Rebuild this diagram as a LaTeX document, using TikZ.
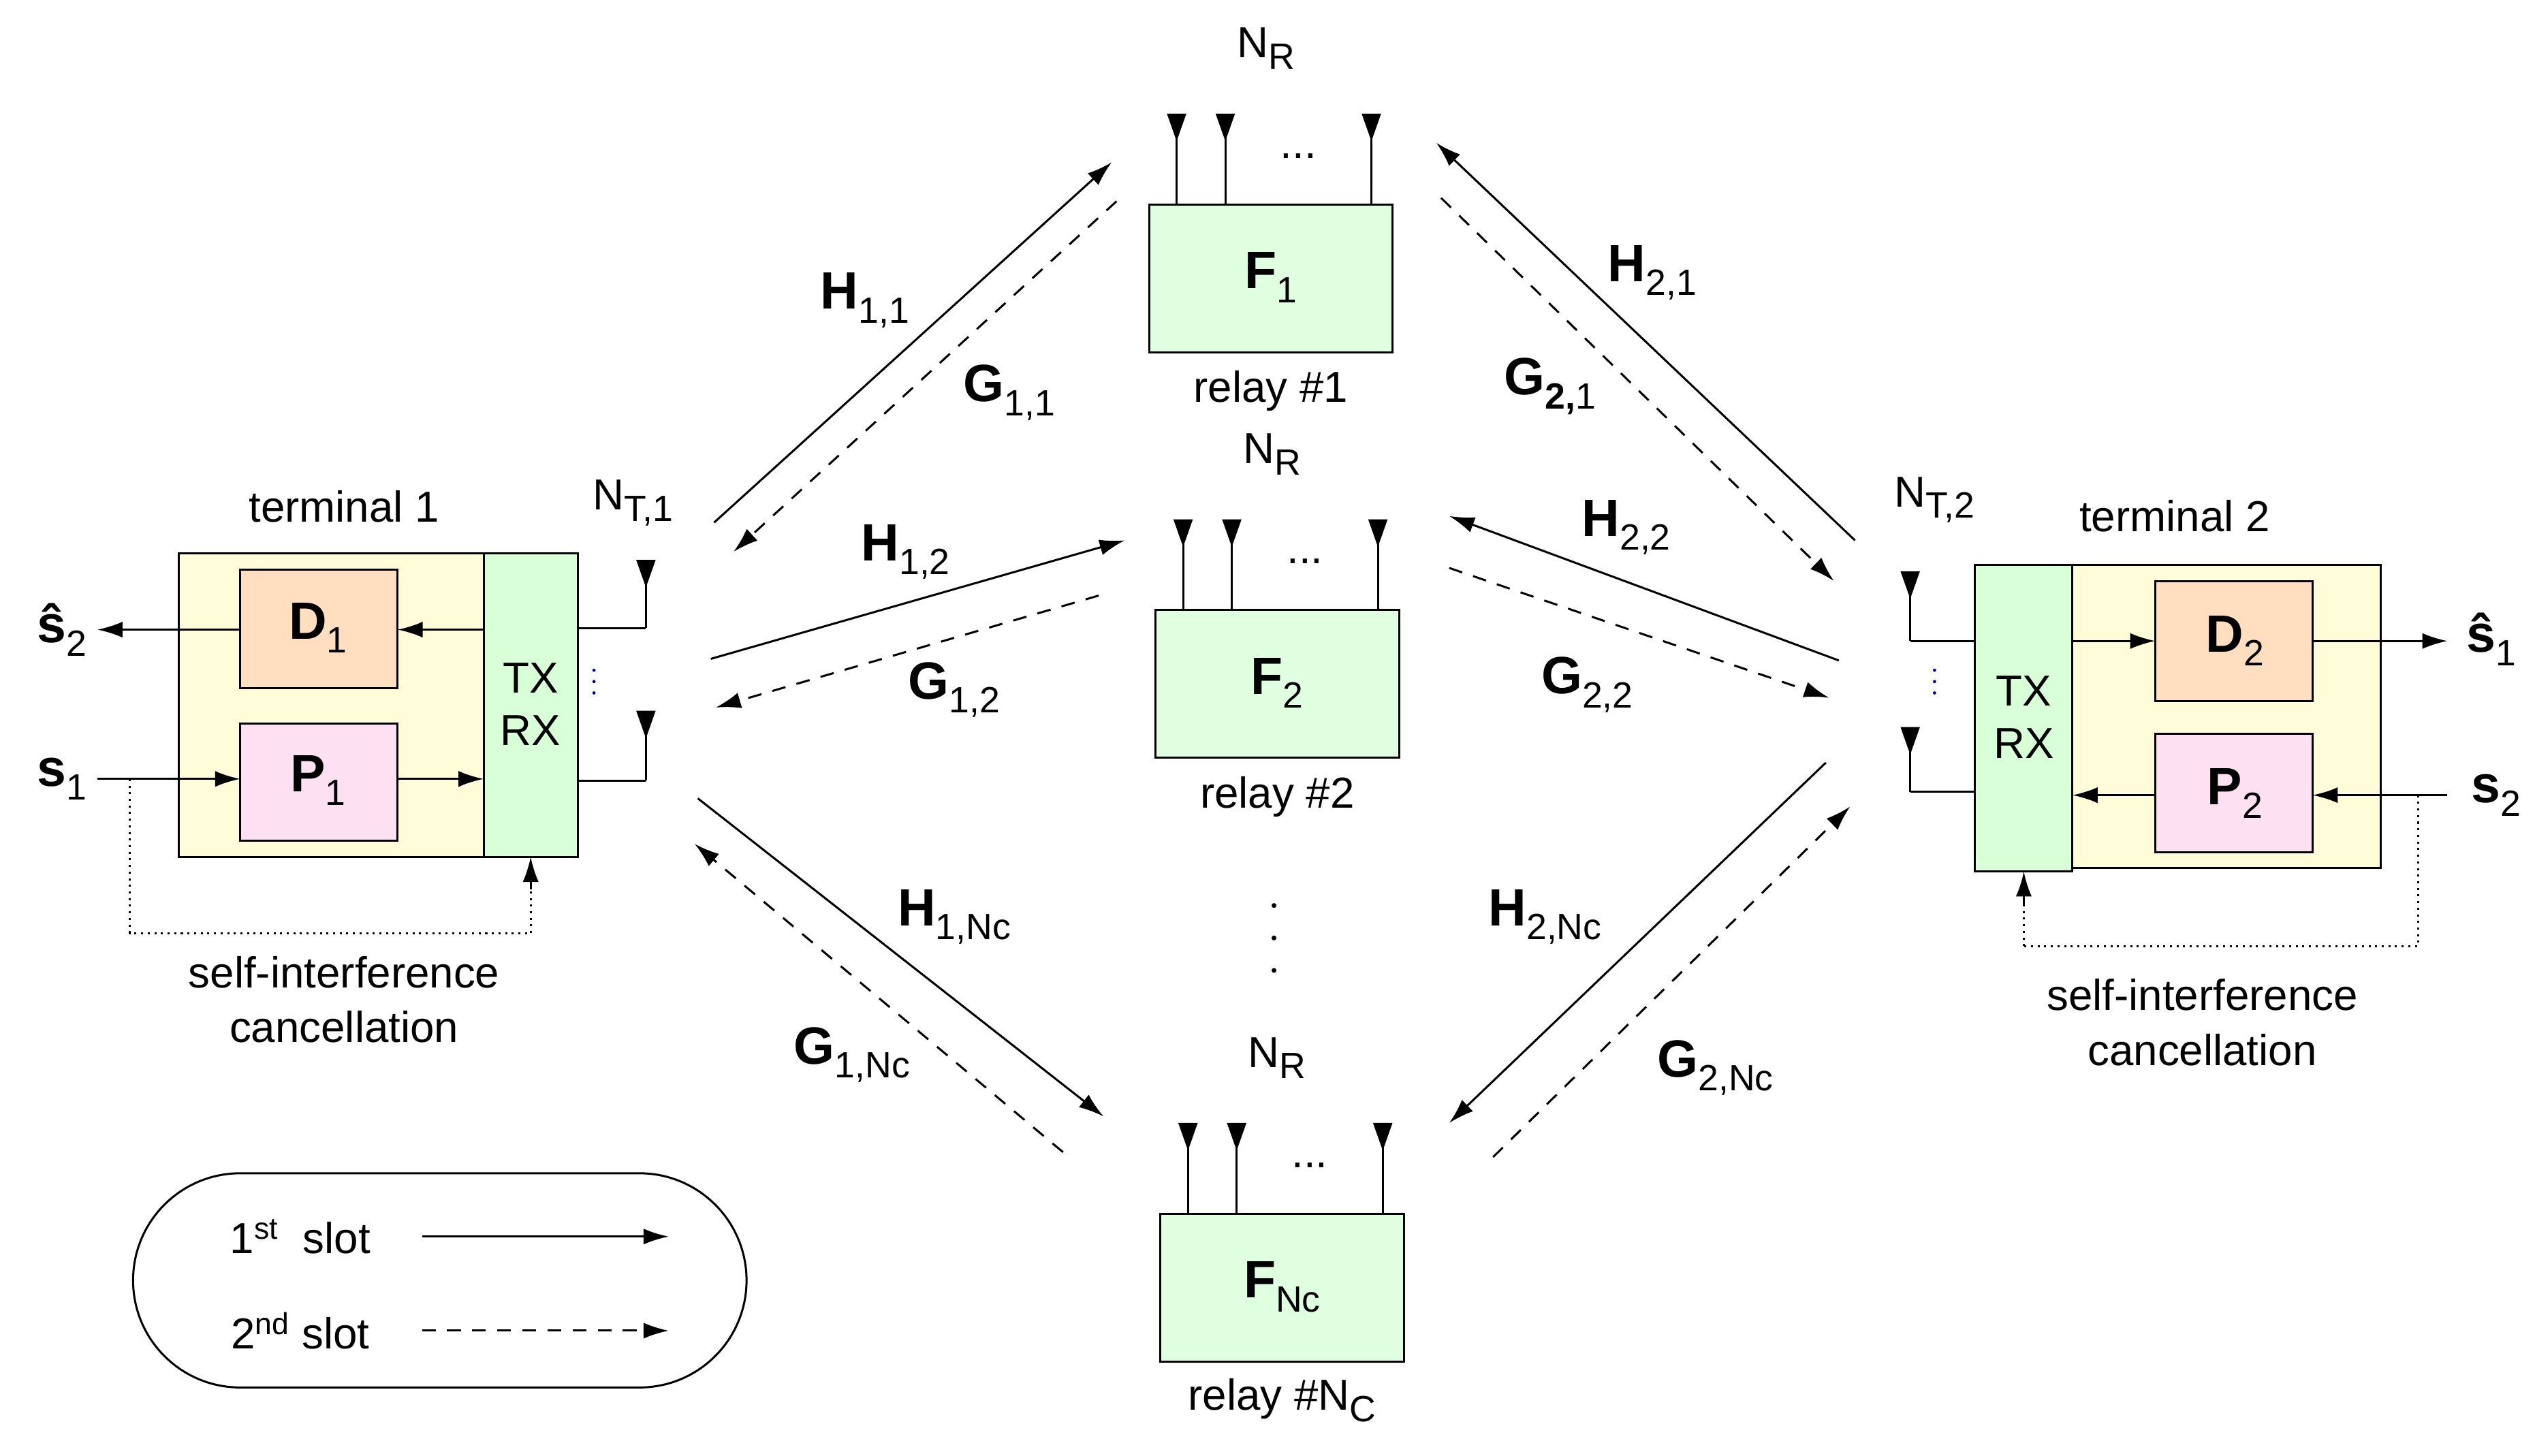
\documentclass[tikz,border=0pt]{standalone}
\usepackage{fontspec}
\setmainfont{Liberation Sans}
\usetikzlibrary{arrows.meta}
\newcommand\lsb[1]{\raisebox{-0.5ex}{\fontsize{16}{16}\selectfont\mdseries #1}}
\begin{document}
\begin{tikzpicture}[x=0.025cm,y=-0.025cm,
  tip/.style={-{Latex[length=11pt,width=7pt]}},
  sol/.style={tip,line width=0.9pt},
  dsh/.style={tip,line width=0.9pt,dash pattern=on 6pt off 5pt},
  dot/.style={line width=0.9pt,dotted},
  txt/.style={font=\fontsize{19}{21}\selectfont,inner sep=0pt},
  lab/.style={font=\fontsize{23}{24}\selectfont\bfseries,inner sep=0pt},
  relay/.style={draw,fill=green!12,line width=0.9pt},
  gbox/.style={draw,fill=green!15,line width=0.9pt},
  ybox/.style={draw,fill=yellow!15,line width=0.9pt},
  obox/.style={draw,fill=orange!25,line width=0.9pt},
  pbox/.style={draw,fill=magenta!12,line width=0.9pt}]
\useasboundingbox (0,0) rectangle (1562,897);
\newcommand\ant[3]{\draw[line width=0.9pt] (#1,#2)--(#1,#3);
  \fill (#1-6,#3)--(#1+6,#3)--(#1,#3+17)--cycle;}
% relays
\foreach \x/\y/\n/\i/\lbl in {708/126/1/1/{relay \#1},712/376/2/2/{relay \#2},715/748/{Nc}/3/{relay \#N\lsb{C}}}{
  \draw[relay] (\x,\y) rectangle ++(150,91);
  \node[lab] (F\i) at (\x+75,\y+45) {F\lsb{\n}};
  \node[txt] (r\i) at (\x+75,\y+115) {\lbl};
  \ant{\x+17}{\y}{\y-56}\ant{\x+47}{\y}{\y-56}\ant{\x+137}{\y}{\y-56}
  \node[txt] at (\x+92,\y-30) {...};
  \node[txt] (NR\i) at (\x+72,\y-96) {N\lsb{R}};
}
\foreach \yy in {558,578,598} \fill (785,\yy) circle (1.5);
% terminal 1
\draw[ybox] (110,341) rectangle (298,528);
\draw[gbox] (298,341) rectangle (356,528);
\node[txt,align=center] (tr1) at (327,434) {TX\\[2pt]RX};
\draw[obox] (148,351) rectangle (245,424); \node[lab] (D1) at (196,387) {D\lsb{1}};
\draw[pbox] (148,446) rectangle (245,518); \node[lab] (P1) at (196,481) {P\lsb{1}};
\node[txt] at (212,312) {terminal 1};
\node[lab] (s2h) at (38,388) {\^{s}\lsb{2}};
\node[lab] (s1) at (38,480) {s\lsb{1}};
\draw[sol] (298,388)--(245,388); \draw[sol] (148,388)--(60,388);
\draw[sol] (60,480)--(148,480); \draw[sol] (245,480)--(298,480);
\draw[line width=0.9pt] (356,387)--(398,387); \ant{398}{387}{345}
\draw[line width=0.9pt] (356,481)--(398,481); \ant{398}{481}{438}
\foreach \yy in {413,420,427} \fill[blue!50!black] (366,\yy) circle (1);
\node[txt] at (390,310) {N\lsb{T,1}};
\draw[dot] (80,480)--(80,575)--(327,575); \draw[dot] (327,575)--(327,545);
\draw[sol] (327,548)--(327,528);
\node[txt,align=center] at (212,616) {self-interference\\[3pt]cancellation};
% terminal 2
\draw[ybox] (1277,348) rectangle (1467,535);
\draw[gbox] (1217,348) rectangle (1277,537);
\node[txt,align=center] (tr2) at (1247,442) {TX\\[2pt]RX};
\draw[obox] (1328,358) rectangle (1425,432); \node[lab] (D2) at (1377,395) {D\lsb{2}};
\draw[pbox] (1328,452) rectangle (1425,525); \node[lab] (P2) at (1377,489) {P\lsb{2}};
\node[txt] at (1340,318) {terminal 2};
\node[lab] (s1h) at (1535,394) {\^{s}\lsb{1}};
\node[lab] (s2) at (1538,490) {s\lsb{2}};
\draw[sol] (1277,395)--(1328,395); \draw[sol] (1425,395)--(1508,395);
\draw[sol] (1508,490)--(1425,490); \draw[sol] (1328,490)--(1277,490);
\draw[line width=0.9pt] (1217,395)--(1177,395); \ant{1177}{395}{352}
\draw[line width=0.9pt] (1217,488)--(1177,488); \ant{1177}{488}{448}
\foreach \yy in {413,420,427} \fill[blue!50!black] (1192,\yy) circle (1);
\node[txt] at (1192,308) {N\lsb{T,2}};
\draw[dot] (1490,490)--(1490,583)--(1247,583); \draw[dot] (1247,583)--(1247,555);
\draw[sol] (1247,558)--(1247,537);
\node[txt,align=center] at (1357,630) {self-interference\\[3pt]cancellation};
% links
\draw[sol] (440,322)--(685,100); \draw[dsh] (688,124)--(452,340);
\draw[sol] (438,406)--(693,333); \draw[dsh] (677,367)--(441,436);
\draw[sol] (430,492)--(680,688); \draw[dsh] (655,710)--(428,520);
\draw[sol] (1143,333)--(885,88); \draw[dsh] (888,122)--(1130,358);
\draw[sol] (1133,407)--(893,318); \draw[dsh] (893,350)--(1127,430);
\draw[sol] (1125,470)--(893,692); \draw[dsh] (920,713)--(1140,497);
\node[lab] at (533,185) {H\lsb{1,1}}; \node[lab] at (622,242) {G\lsb{1,1}};
\node[lab] at (558,340) {H\lsb{1,2}}; \node[lab] at (588,425) {G\lsb{1,2}};
\node[lab] at (588,565) {H\lsb{1,Nc}}; \node[lab] at (525,650) {G\lsb{1,Nc}};
\node[lab] at (1018,168) {H\lsb{2,1}}; \node[lab] at (955,238) {G\lsb{\bfseries 2,\mdseries 1}};
\node[lab] at (1002,325) {H\lsb{2,2}}; \node[lab] at (978,422) {G\lsb{2,2}};
\node[lab] at (952,565) {H\lsb{2,Nc}}; \node[lab] at (1057,658) {G\lsb{2,Nc}};
% legend
\draw[line width=0.9pt,rounded corners=66*0.025cm] (82,723) rectangle (460,855);
\node[txt] at (185,762) {1\textsuperscript{st}\ \ slot};
\node[txt] at (185,820) {2\textsuperscript{nd}\ slot};
\coordinate (l1a) at (260,762); \coordinate (l1b) at (412,762);
\coordinate (l2a) at (260,820); \coordinate (l2b) at (412,820);
\draw[sol] (l1a)--(l1b); \draw[dsh] (l2a)--(l2b);
\end{tikzpicture}
\end{document}
